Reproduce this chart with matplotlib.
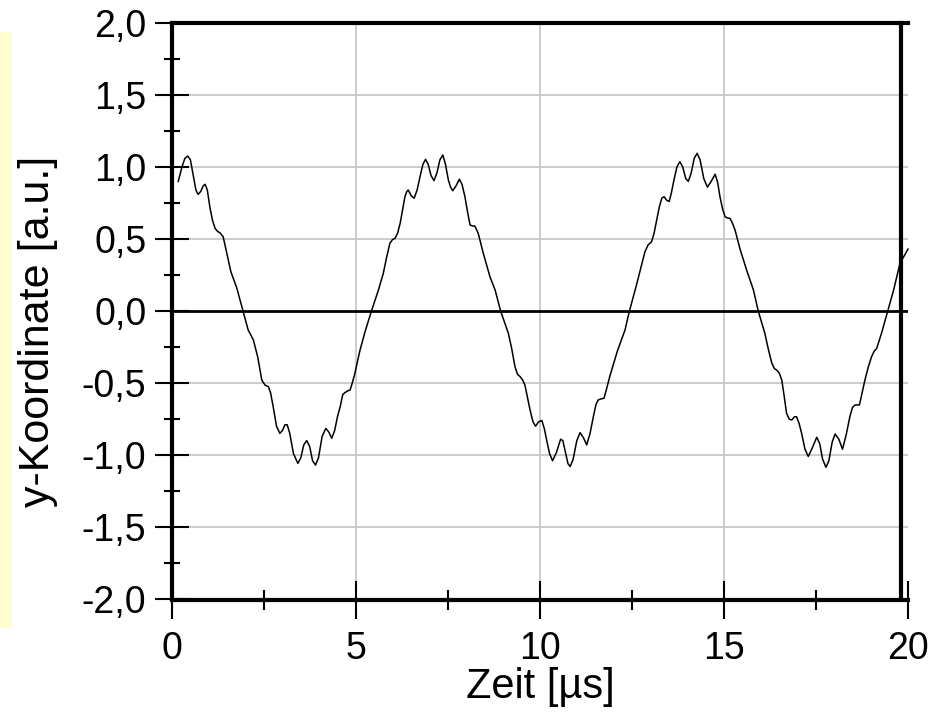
import matplotlib
matplotlib.use("Agg")
import matplotlib.pyplot as plt
from matplotlib.patches import Rectangle

plt.rcParams['font.family'] = ['Liberation Sans', 'DejaVu Sans']

# curve, time in us
t = [0.17, 0.27, 0.35, 0.43, 0.50, 0.58, 0.65, 0.71, 0.78, 0.85, 0.90, 0.96,
     1.03, 1.10, 1.17, 1.24, 1.30, 1.39, 1.49, 1.60, 1.76, 1.93, 2.07, 2.21,
     2.33, 2.44, 2.53, 2.62, 2.68, 2.75, 2.84, 2.93, 3.00, 3.07, 3.13, 3.20,
     3.30, 3.42, 3.50, 3.58, 3.66, 3.74, 3.82, 3.90, 3.98, 4.08, 4.18, 4.26,
     4.34, 4.42, 4.50, 4.57, 4.64, 4.70, 4.77, 4.84, 4.91, 4.97, 5.04, 5.11,
     5.25, 5.42, 5.61, 5.74, 5.83, 5.92, 5.99, 6.06, 6.13, 6.20, 6.27, 6.33,
     6.38, 6.42, 6.50, 6.58, 6.66, 6.74, 6.82, 6.89, 6.96, 7.04, 7.12, 7.20,
     7.28, 7.36, 7.43, 7.51, 7.57, 7.63, 7.72, 7.81, 7.88, 7.96, 8.03, 8.10,
     8.17, 8.23, 8.32, 8.46, 8.64, 8.78, 8.93, 9.14, 9.23, 9.32, 9.39, 9.46,
     9.53, 9.59, 9.66, 9.73, 9.81, 9.88, 9.96, 10.05, 10.12, 10.18, 10.26,
     10.34, 10.45, 10.56, 10.62, 10.70, 10.76, 10.82, 10.90, 11.00, 11.09,
     11.18, 11.27, 11.36, 11.45, 11.52, 11.58, 11.66, 11.74, 11.82, 11.90,
     12.10, 12.31, 12.43, 12.61, 12.73, 12.85, 12.94, 13.03, 13.10, 13.17,
     13.24, 13.31, 13.37, 13.44, 13.51, 13.57, 13.64, 13.72, 13.80, 13.88,
     13.96, 14.03, 14.11, 14.19, 14.27, 14.35, 14.45, 14.55, 14.65, 14.76,
     14.83, 14.89, 14.96, 15.03, 15.10, 15.16, 15.23, 15.30, 15.43, 15.62,
     15.80, 15.93, 16.11, 16.20, 16.30, 16.37, 16.43, 16.50, 16.57, 16.64,
     16.70, 16.77, 16.84, 16.91, 16.97, 17.04, 17.11, 17.20, 17.29, 17.40,
     17.52, 17.60, 17.68, 17.77, 17.85, 17.94, 18.02, 18.12, 18.22, 18.32,
     18.42, 18.49, 18.56, 18.62, 18.68, 18.76, 18.83, 18.92, 19.01, 19.08,
     19.15, 19.28, 19.45, 19.61, 19.78, 20.00]

y = [0.90, 1.00, 1.06, 1.076, 1.05, 0.94, 0.84, 0.81, 0.83, 0.87, 0.88, 0.84,
     0.72, 0.63, 0.574, 0.552, 0.544, 0.516, 0.40, 0.273, 0.16, 0.0, -0.132,
     -0.20, -0.32, -0.48, -0.515, -0.525, -0.57, -0.665, -0.80, -0.85, -0.83,
     -0.79, -0.79, -0.85, -0.99, -1.058, -1.02, -0.93, -0.90, -0.94, -1.04,
     -1.07, -1.02, -0.87, -0.815, -0.84, -0.884, -0.83, -0.73, -0.665, -0.58,
     -0.567, -0.555, -0.549, -0.49, -0.433, -0.35, -0.271, -0.14, 0.0, 0.146,
     0.26, 0.37, 0.47, 0.495, 0.505, 0.54, 0.609, 0.71, 0.794, 0.83, 0.84,
     0.80, 0.783, 0.84, 0.933, 1.02, 1.053, 1.02, 0.94, 0.905, 0.96, 1.05,
     1.083, 1.02, 0.91, 0.86, 0.835, 0.87, 0.915, 0.88, 0.794, 0.69, 0.597,
     0.59, 0.59, 0.54, 0.40, 0.238, 0.146, 0.0, -0.155, -0.26, -0.387, -0.44,
     -0.456, -0.48, -0.514, -0.60, -0.6875, -0.77, -0.80, -0.77, -0.76, -0.82,
     -0.896, -0.99, -1.04, -0.98, -0.89, -0.90, -0.99, -1.06, -1.08, -1.03,
     -0.90, -0.845, -0.88, -0.93, -0.85, -0.734, -0.65, -0.618, -0.61, -0.606,
     -0.53, -0.451, -0.28, -0.132, 0.0, 0.169, 0.29, 0.41, 0.46, 0.48, 0.54,
     0.632, 0.72, 0.783, 0.794, 0.77, 0.76, 0.82, 0.91, 1.00, 1.037, 1.00,
     0.92, 0.90, 0.96, 1.06, 1.095, 1.05, 0.92, 0.86, 0.90, 0.95, 0.89, 0.794,
     0.71, 0.655, 0.645, 0.644, 0.61, 0.5625, 0.435, 0.28, 0.146, 0.0, -0.155,
     -0.26, -0.363, -0.40, -0.41, -0.43, -0.479, -0.60, -0.71, -0.75, -0.757,
     -0.735, -0.734, -0.78, -0.85, -0.96, -1.01, -0.95, -0.877, -0.92, -1.03,
     -1.085, -1.04, -0.91, -0.854, -0.89, -0.96, -0.86, -0.734, -0.67, -0.653,
     -0.652, -0.653, -0.56, -0.479, -0.39, -0.317, -0.28, -0.259, -0.155, 0.0,
     0.146, 0.33, 0.43]

x_major = [0, 5, 10, 15, 20]
x_minor = [2.5, 7.5, 12.5, 17.5]
y_major = [-2.0, -1.5, -1.0, -0.5, 0.0, 0.5, 1.0, 1.5, 2.0]
y_minor = [-1.75, -1.25, -0.75, -0.25, 0.25, 0.75, 1.25, 1.75]
y_labels = ['-2,0', '-1,5', '-1,0', '-0,5', '0,0', '0,5', '1,0', '1,5', '2,0']
x_grid = [5, 10, 15]
y_grid = [-1.5, -1.0, -0.5, 0.5, 1.0, 1.5]


def main():
    fig = plt.figure(figsize=(9.43, 7.14), dpi=100)
    ax = fig.add_axes([172 / 943, 1 - 599 / 714, 736 / 943, 576 / 714])

    # pale yellow strip at the left edge
    fig.patches.append(Rectangle((0, 1 - 628 / 714), 12 / 943, 596 / 714,
                                 transform=fig.transFigure,
                                 facecolor='#fffdd0', edgecolor='none'))

    for v in x_grid:
        ax.axvline(v, color='#c4c4c4', lw=1.2, zorder=1)
    for v in y_grid:
        ax.axhline(v, color='#c4c4c4', lw=1.2, zorder=1)
    ax.axhline(0, color='black', lw=2.0, zorder=2)

    ax.plot(t, y, color='black', lw=1.1, zorder=3, clip_on=False)

    ax.set_xlim(0, 20)
    ax.set_ylim(-2, 2)

    ax.set_xticks(x_major)
    ax.set_xticks(x_minor, minor=True)
    ax.set_xticklabels([str(v) for v in x_major])
    ax.set_yticks(y_major)
    ax.set_yticks(y_minor, minor=True)
    ax.set_yticklabels(y_labels)

    for side in ['left', 'right', 'top', 'bottom']:
        ax.spines[side].set_linewidth(3)
    ax.spines['right'].set_position(('outward', -5))
    ax.spines['bottom'].set_position(('outward', 1))

    ax.tick_params(axis='y', which='major', direction='inout', length=25,
                   width=1.5, labelsize=27, pad=6)
    ax.tick_params(axis='y', which='minor', direction='inout', length=12,
                   width=1.5)
    ax.tick_params(axis='x', which='major', direction='inout', length=28,
                   width=1.5, labelsize=27, pad=8)
    ax.tick_params(axis='x', which='minor', direction='inout', length=14,
                   width=1.5)

    ax.set_xlabel('Zeit [µs]', fontsize=30, labelpad=0)
    fig.text(38 / 943, 1 - 331 / 714, 'y-Koordinate [a.u.]', fontsize=31,
             rotation=90, ha='center', va='center')

    fig.savefig('out.png', dpi=100)


if __name__ == '__main__':
    main()
